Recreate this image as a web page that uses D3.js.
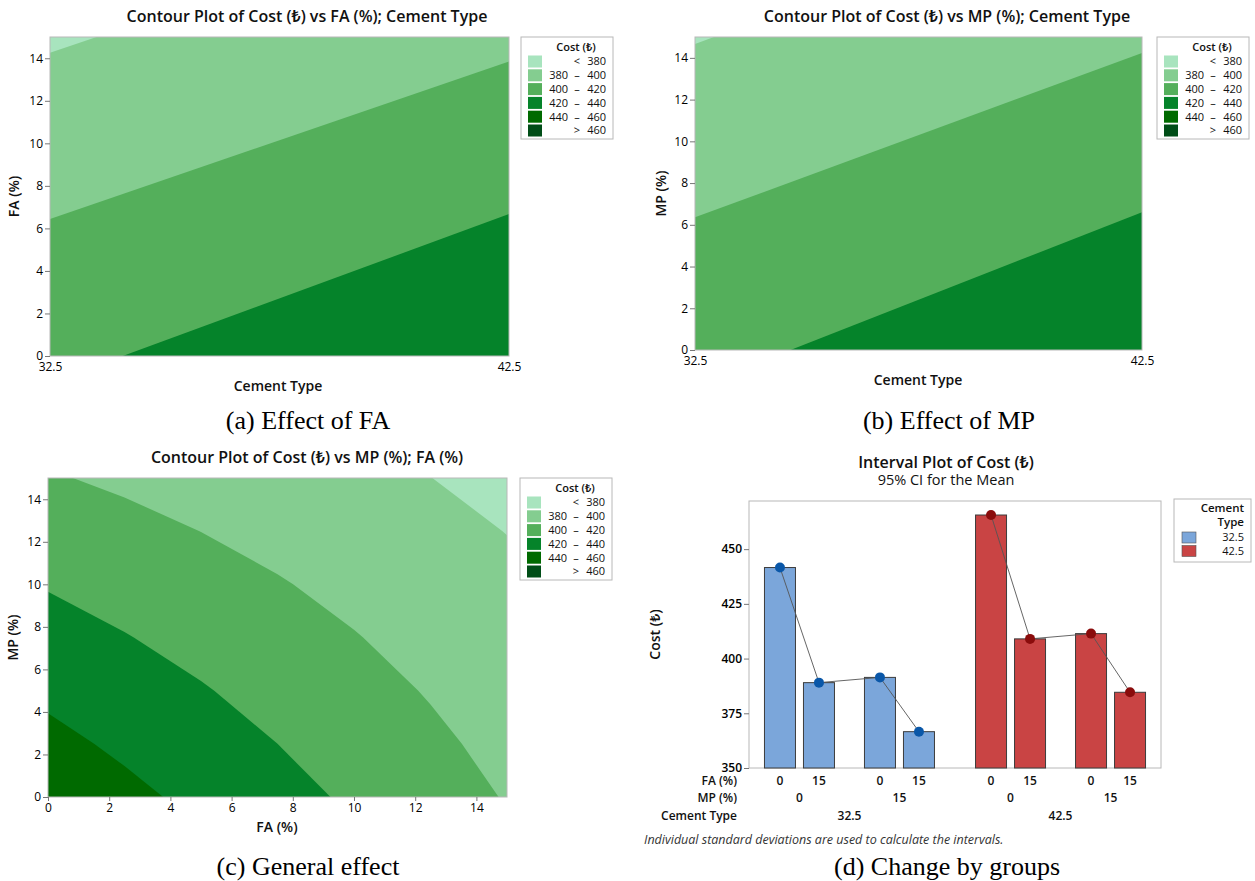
<!DOCTYPE html>
<html>
<head>
<meta charset="utf-8">
<script src="https://cdn.jsdelivr.net/npm/d3@7"></script>
<style>
  body { margin: 0; background: #fff; }
</style>
</head>
<body>
<svg id="chart" width="1255" height="881"></svg>
<script>
// ---- data ----
var costLevels = [380, 400, 420, 440, 460];
var levelColors = ["#a8e4be", "#84cd90", "#54af5b", "#05832a", "#006a00", "#004d17"];
var levelLow = ["", "380", "400", "420", "440", ""];
var levelSign = ["<", "\u2013", "\u2013", "\u2013", "\u2013", ">"];
var levelHigh = ["380", "400", "420", "440", "460", "460"];

var cementTypes = [32.5, 42.5];
var faEnds = [0, 15];
var mpEnds = [0, 15];
// rows: FA 0 / 15, cols: cement 32.5 / 42.5
var costCementFa = [[416.5, 438.6], [378.1, 396.8]];
// rows: MP 0 / 15, cols: cement 32.5 / 42.5
var costCementMp = [[415.3, 437.3], [379.2, 398.0]];

var pctSteps = [0, 2.5, 5, 7.5, 10, 12.5, 15];
var pctTicks = [0, 2, 4, 6, 8, 10, 12, 14];
// rows: MP (%), cols: FA (%)
var costFaMp = [
  [453.7, 444.6, 435.5, 426.3, 417.2, 408.1, 399.0],
  [445.0, 436.7, 428.4, 420.0, 411.7, 403.4, 395.1],
  [436.3, 428.8, 421.3, 413.8, 406.3, 398.8, 391.3],
  [427.5, 420.8, 414.2, 407.5, 400.8, 394.1, 387.4],
  [418.8, 412.9, 407.1, 401.2, 395.3, 389.4, 383.6],
  [410.1, 405.0, 399.9, 394.9, 389.8, 384.8, 379.7],
  [401.4, 397.1, 392.9, 388.6, 384.4, 380.1, 375.9]
];

var groupCement = ["32.5", "32.5", "32.5", "32.5", "42.5", "42.5", "42.5", "42.5"];
var groupMp = ["0", "0", "15", "15", "0", "0", "15", "15"];
var groupFa = ["0", "15", "0", "15", "0", "15", "0", "15"];
var groupMean = [441.6, 389.0, 391.4, 366.6, 465.6, 409.0, 411.4, 384.6];
var costTicks = [350, 375, 400, 425, 450];
var cementNames = ["32.5", "42.5"];
var cementColors = ["#7ba6da", "#c94444"];
var cementDots = ["#0a57a8", "#8a0c0c"];

var svg = d3.select("#chart");
var sans = "'Open Sans', 'Noto Sans', 'DejaVu Sans', sans-serif";
var serif = "'Liberation Serif', 'Times New Roman', serif";

function txt(g, x, y, s, size, weight, anchor) {
  return g.append("text")
    .attr("x", x).attr("y", y).attr("dy", "0.35em")
    .attr("text-anchor", anchor || "middle")
    .style("font-family", sans)
    .style("font-size", size + "px")
    .style("font-weight", weight || "normal")
    .style("fill", "#111")
    .text(s);
}

function caption(x, y, s) {
  svg.append("text").attr("x", x).attr("y", y)
    .attr("text-anchor", "middle")
    .style("font-family", serif).style("font-size", "26px")
    .text(s);
}

function styleAxis(a) {
  a.select(".domain").remove();
  a.selectAll(".tick line").attr("stroke", "#777");
  a.selectAll(".tick text").style("font-family", sans).style("font-size", "12px").style("fill", "#000");
}

function contourLegend(lx, ly) {
  var g = svg.append("g").attr("transform", "translate(" + lx + "," + ly + ")");
  g.append("rect").attr("width", 92).attr("height", 102)
    .attr("fill", "#fff").attr("stroke", "#b8b8b8");
  txt(g, 55, 10, "Cost (\u20ba)", 11, 600);
  levelColors.forEach(function (c, i) {
    var cy = 24.5 + i * 13.8;
    g.append("rect").attr("x", 7).attr("y", cy - 6).attr("width", 14).attr("height", 12).attr("fill", c);
    txt(g, 47, cy, levelLow[i], 11, "normal", "end");
    txt(g, 56, cy, levelSign[i], 11, "normal", "middle");
    txt(g, 85, cy, levelHigh[i], 11, "normal", "end");
  });
}

function contourPanel(p) {
  var nx = p.cols.length, ny = p.rows.length;
  var x = d3.scaleLinear().domain(d3.extent(p.cols)).range([p.left, p.right]);
  var y = d3.scaleLinear().domain([0, 15]).range([p.bottom, p.top]);
  // d3.contours puts sample i at grid coordinate i + 0.5
  var gx = d3.scaleLinear().domain([0.5, nx - 0.5]).range([p.left, p.right]);
  var gy = d3.scaleLinear().domain([0.5, ny - 0.5]).range([p.bottom, p.top]);
  var path = d3.geoPath(d3.geoTransform({
    point: function (px, py) { this.stream.point(gx(px), gy(py)); }
  }));
  var contours = d3.contours().size([nx, ny]).thresholds(costLevels)(p.grid.flat());

  var g = svg.append("g");
  g.append("clipPath").attr("id", p.id).append("rect")
    .attr("x", p.left).attr("y", p.top)
    .attr("width", p.right - p.left).attr("height", p.bottom - p.top);
  var body = g.append("g").attr("clip-path", "url(#" + p.id + ")");
  body.append("rect")
    .attr("x", p.left).attr("y", p.top)
    .attr("width", p.right - p.left).attr("height", p.bottom - p.top)
    .attr("fill", levelColors[0]);
  body.selectAll("path").data(contours).join("path")
    .attr("d", path)
    .attr("fill", function (d, i) { return levelColors[i + 1]; });
  g.append("rect")
    .attr("x", p.left).attr("y", p.top)
    .attr("width", p.right - p.left).attr("height", p.bottom - p.top)
    .attr("fill", "none").attr("stroke", "#b8b8b8");

  var ya = g.append("g").attr("transform", "translate(" + p.left + ",0)")
    .call(d3.axisLeft(y).tickValues(pctTicks).tickSize(5).tickPadding(2));
  styleAxis(ya);
  var xa = g.append("g").attr("transform", "translate(0," + p.bottom + ")")
    .call(d3.axisBottom(x).tickValues(p.xTicks).tickSize(p.xTickSize).tickPadding(p.xTickPad)
      .tickFormat(d3.format("")));
  styleAxis(xa);

  txt(g, p.titleX, p.titleY, p.title, 16, 600);
  txt(g, p.xLabelX, p.xLabelY, p.xLabel, 14, 600);
  txt(g, 0, 0, p.yLabel, 14, 600)
    .attr("transform", "translate(" + p.yLabelX + "," + ((p.top + p.bottom) / 2) + ") rotate(-90)");
  contourLegend(p.legendX, p.legendY);
}

// (a)
contourPanel({
  id: "clipA", grid: costCementFa, cols: cementTypes, rows: faEnds,
  left: 50, right: 509, top: 37, bottom: 356, xTicks: cementTypes, xTickSize: 0, xTickPad: 6,
  title: "Contour Plot of Cost (\u20ba) vs FA (%); Cement Type", titleX: 307, titleY: 16,
  xLabel: "Cement Type", xLabelX: 278, xLabelY: 386,
  yLabel: "FA (%)", yLabelX: 14, legendX: 521, legendY: 37
});
caption(308, 429, "(a) Effect of FA");

// (b)
contourPanel({
  id: "clipB", grid: costCementMp, cols: cementTypes, rows: mpEnds,
  left: 695, right: 1142, top: 37, bottom: 350, xTicks: cementTypes, xTickSize: 0, xTickPad: 6,
  title: "Contour Plot of Cost (\u20ba) vs MP (%); Cement Type", titleX: 947, titleY: 16,
  xLabel: "Cement Type", xLabelX: 918, xLabelY: 380,
  yLabel: "MP (%)", yLabelX: 661, legendX: 1157, legendY: 37
});
caption(949, 429, "(b) Effect of MP");

// (c)
contourPanel({
  id: "clipC", grid: costFaMp, cols: pctSteps, rows: pctSteps,
  left: 48, right: 507, top: 478, bottom: 797, xTicks: pctTicks, xTickSize: 4, xTickPad: 2,
  title: "Contour Plot of Cost (\u20ba) vs MP (%); FA (%)", titleX: 307, titleY: 457,
  xLabel: "FA (%)", xLabelX: 277, xLabelY: 827,
  yLabel: "MP (%)", yLabelX: 13, legendX: 520, legendY: 478
});
caption(308, 875, "(c) General effect");

// (d) interval plot
var dLeft = 749, dRight = 1161, dTop = 501, dBottom = 768;
var gd = svg.append("g");
var yD = d3.scaleLinear().domain([350, 472]).range([dBottom, dTop]);
var xCement = d3.scalePoint().domain(cementNames).range([dLeft, dRight]).padding(0.476);
var xMp = d3.scalePoint().domain(["0", "15"]).range([-50, 50]);
var xFa = d3.scalePoint().domain(["0", "15"]).range([-19.5, 19.5]);
function barX(i) { return xCement(groupCement[i]) + xMp(groupMp[i]) + xFa(groupFa[i]); }
var barW = 31;

gd.append("rect").attr("x", dLeft).attr("y", dTop)
  .attr("width", dRight - dLeft).attr("height", dBottom - dTop)
  .attr("fill", "none").attr("stroke", "#b8b8b8");

gd.selectAll("rect.bar").data(groupMean).join("rect").attr("class", "bar")
  .attr("x", function (d, i) { return barX(i) - barW / 2; })
  .attr("y", function (d) { return yD(d); })
  .attr("width", barW)
  .attr("height", function (d) { return yD(350) - yD(d); })
  .attr("fill", function (d, i) { return cementColors[cementNames.indexOf(groupCement[i])]; })
  .attr("stroke", "#3c3c3c").attr("stroke-width", 1);

var meanLine = d3.line().x(function (d) { return barX(d); }).y(function (d) { return yD(groupMean[d]); });
cementNames.forEach(function (c) {
  var idx = d3.range(groupMean.length).filter(function (i) { return groupCement[i] === c; });
  gd.append("path").attr("d", meanLine(idx)).attr("fill", "none")
    .attr("stroke", "#555").attr("stroke-width", 0.9);
});

gd.selectAll("circle").data(groupMean).join("circle")
  .attr("cx", function (d, i) { return barX(i); })
  .attr("cy", function (d) { return yD(d); })
  .attr("r", 5)
  .attr("fill", function (d, i) { return cementDots[cementNames.indexOf(groupCement[i])]; });

var yaD = gd.append("g").attr("transform", "translate(" + dLeft + ",0)")
  .call(d3.axisLeft(yD).tickValues(costTicks).tickSize(5).tickPadding(2));
styleAxis(yaD);
yaD.selectAll(".tick text").style("font-weight", 600);

txt(gd, 946, 462, "Interval Plot of Cost (\u20ba)", 16, 600);
txt(gd, 946, 480, "95% CI for the Mean", 14.5, 500);
txt(gd, 0, 0, "Cost (\u20ba)", 14, 600)
  .attr("transform", "translate(655," + ((dTop + dBottom) / 2) + ") rotate(-90)");

// category table below the axis
txt(gd, 737, 781, "FA (%)", 12, 600, "end");
txt(gd, 737, 798, "MP (%)", 12, 600, "end");
txt(gd, 737, 816, "Cement Type", 12, 600, "end");
groupFa.forEach(function (f, i) { txt(gd, barX(i), 781, f, 12, 600); });
cementNames.forEach(function (c) {
  xMp.domain().forEach(function (m) { txt(gd, xCement(c) + xMp(m), 798, m, 12, 600); });
  txt(gd, xCement(c), 816, c, 12, 600);
});
txt(gd, 644, 840, "Individual standard deviations are used to calculate the intervals.", 12.5, "normal", "start")
  .style("font-style", "italic").style("fill", "#333");

// legend (d)
var lg = svg.append("g").attr("transform", "translate(1174,499)");
lg.append("rect").attr("width", 77).attr("height", 63).attr("fill", "#fff").attr("stroke", "#b8b8b8");
txt(lg, 70, 9, "Cement", 11.5, 600, "end");
txt(lg, 70, 23, "Type", 11.5, 600, "end");
cementNames.forEach(function (c, i) {
  var cy = 38.5 + i * 13.5;
  lg.append("rect").attr("x", 8).attr("y", cy - 5.5).attr("width", 14).attr("height", 11)
    .attr("fill", cementColors[i]).attr("stroke", "#555").attr("stroke-width", 0.6);
  txt(lg, 70, cy, c, 11, "normal", "end");
});
caption(947, 875, "(d) Change by groups");
</script>
</body>
</html>
